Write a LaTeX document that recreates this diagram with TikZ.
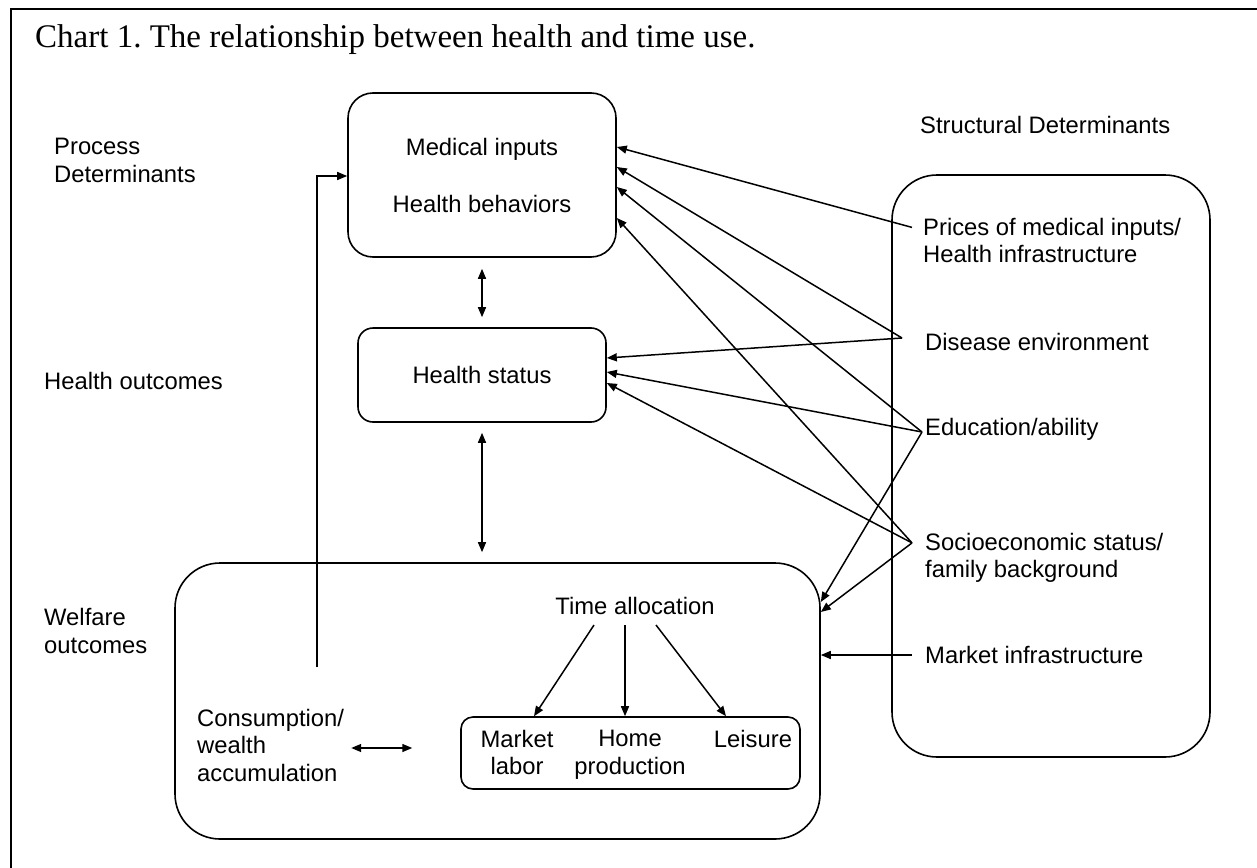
\documentclass[tikz,border=0pt]{standalone}
\usepackage{fontspec}
\setmainfont{Liberation Serif}
\newfontfamily\arialf{Liberation Sans}
\usetikzlibrary{arrows.meta}
\frenchspacing
\begin{document}
\begin{tikzpicture}[x=1pt,y=-1pt,
  lbl/.style={font=\arialf\fontsize{23.8}{27.5}\selectfont, inner sep=0pt, align=left},
  ctr/.style={lbl, align=center},
  box/.style={draw, line width=1.6pt, inner sep=0pt},
  arr/.style={line width=1.5pt, -{Triangle[length=10pt,width=8pt]}},
  darr/.style={line width=1.5pt, {Triangle[length=10pt,width=8pt]}-{Triangle[length=10pt,width=8pt]}}]
\useasboundingbox (0,0) rectangle (1257,867);
\fill[white] (0,0) rectangle (1257,867);
\draw[line width=2.2pt] (11,870) -- (11,9) -- (1260,9);

% title
\node[anchor=base west, inner sep=0pt, font=\fontsize{33}{37}\selectfont] (title) at (35,48) {Chart 1. The relationship between health and time use.};

% left labels
\node[lbl, anchor=west] (proc) at (54,160.5) {Process\\Determinants};
\node[lbl, anchor=west] (hout) at (44,381) {Health outcomes};
\node[lbl, anchor=west] (wout) at (44,631) {Welfare\\outcomes};

% central boxes
\node[box, ctr, rounded corners=25pt, minimum width=268pt, minimum height=164pt] (box1) at (482,175) {Medical inputs\\[29.5pt]Health behaviors};
\node[box, ctr, rounded corners=15pt, minimum width=248pt, minimum height=94pt] (box2) at (482,375) {Health status};
\node[box, rounded corners=45pt, minimum width=645pt, minimum height=276pt] (big) at (497.5,701) {};
\node[box, rounded corners=12pt, minimum width=339pt, minimum height=72pt] (small) at (630.5,753) {};

% welfare contents
\node[ctr] (time) at (635,606) {Time allocation};
\node[ctr] (mlab) at (517,752.5) {Market\\labor};
\node[ctr] (home) at (630,755) {Home\\production};
\node[ctr] (leis) at (753,739) {Leisure};
\node[lbl, anchor=west] (cons) at (197,745.4) {Consumption/\\wealth\\accumulation};

% structural determinants
\node[box, rounded corners=45pt, minimum width=318pt, minimum height=582pt] (sbox) at (1051,466) {};
\node[lbl, anchor=west] (struct) at (920,125) {Structural Determinants};
\node[lbl, anchor=west] (prices) at (923,240.4) {Prices of medical inputs/\\Health infrastructure};
\node[lbl, anchor=west] (disease) at (925,342) {Disease environment};
\node[lbl, anchor=west] (edu) at (925,429.4) {Education/ability};
\node[lbl, anchor=west] (socio) at (925,557.9) {Socioeconomic status/\\family background};
\node[lbl, anchor=west] (minfra) at (925,655) {Market infrastructure};

\coordinate (pP) at ([xshift=-11pt,yshift=13pt]prices.west);
\coordinate (pD) at ([xshift=-23pt,yshift=4pt]disease.west);
\coordinate (pE) at ([xshift=-3pt,yshift=-2.6pt]edu.west);
\coordinate (pS) at ([xshift=-13pt,yshift=15pt]socio.west);
\coordinate (pM) at ([xshift=-13pt]minfra.west);

\draw[arr] (pP) -- ([yshift=28pt]box1.east);
\draw[arr] (pD) -- ([yshift=8pt]box1.east);
\draw[arr] (pE) -- ([yshift=-12pt]box1.east);
\draw[arr] (pS) -- ([yshift=-43pt]box1.east);
\draw[arr] (pD) -- ([yshift=17pt]box2.east);
\draw[arr] (pE) -- ([yshift=3pt]box2.east);
\draw[arr] (pS) -- ([yshift=-8pt]box2.east);
\draw[arr] (pE) -- ([yshift=99pt]big.east);
\draw[arr] (pS) -- ([yshift=89pt]big.east);
\draw[arr] (pM) -- (big.east |- pM);

% vertical links
\draw[darr, shorten <=11pt, shorten >=10pt] (box1.south) -- (box2.north);
\draw[darr, shorten <=10pt, shorten >=10pt] (box2.south) -- (box2.south |- big.north);
\coordinate (vb) at (317,667);
\draw[arr] (vb) |- ([yshift=-1pt]box1.west);

% time allocation arrows
\draw[arr] ([xshift=-41pt,yshift=-19pt]time.center) -- ([xshift=-96.5pt]small.north);
\draw[arr] ([xshift=-10pt,yshift=-19pt]time.center) -- ([xshift=-5.5pt]small.north);
\draw[arr] ([xshift=21pt,yshift=-19pt]time.center) -- ([xshift=95.5pt]small.north);

% consumption double arrow
\draw[darr] ([xshift=7pt,yshift=-2.6pt]cons.east) -- ++(61,0);
\end{tikzpicture}
\end{document}
